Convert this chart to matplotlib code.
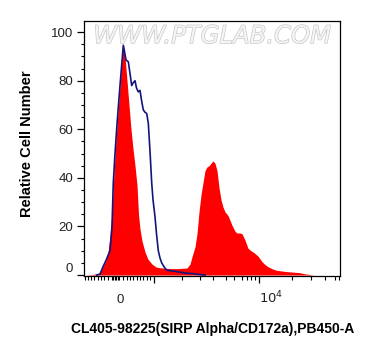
import matplotlib
matplotlib.use('Agg')
import matplotlib.pyplot as plt
import matplotlib.patheffects as pe

plt.rcParams['font.family'] = ['Liberation Sans', 'DejaVu Sans']

# stained sample (red fill), x in display channel units
red_x = [85, 92, 97, 100, 103, 106, 108, 110, 112, 114, 116, 118, 120, 122, 123.3,
         125, 127, 129, 131, 133, 135, 137, 138.5, 140, 142, 145, 148, 152, 156, 160,
         165, 172, 180, 187, 190, 192, 195, 197, 199, 201, 203, 205, 207, 209, 211,
         213, 215, 217, 219, 221, 223, 225, 228, 232, 235, 237, 240, 242, 245, 248,
         251, 254, 258, 262, 265, 268, 272, 276, 281, 287, 293, 299, 305, 310, 314]
red_y = [0, 0.2, 0.5, 0.8, 3.4, 6, 9.5, 16, 26, 42, 56, 67, 78, 89, 95,
         90, 80, 70, 60, 52, 45, 37, 25, 19, 14, 9.5, 6.5, 4.5, 3.3, 3.0,
         2.8, 2.6, 2.7, 2.9, 4.5, 7.5, 11.6, 17, 26, 33, 38, 43, 44.5, 45, 46,
         47, 46, 43, 36, 31, 28, 26, 24.5, 20.5, 18, 17.3, 17.3, 17, 14.4, 11,
         10, 9.2, 7.8, 5.5, 4.3, 3.4, 2.6, 2, 1.7, 1.4, 1.2, 1, 0.5, 0.2, 0]

# unstained control (blue line)
blue_x = [96.7, 100, 103, 106, 110, 112, 113.3, 115, 117, 118.3, 120, 122, 123.3, 124.5,
          126, 128.3, 130, 131.7, 133, 135, 136.5, 138.3, 140, 141.5, 143.3, 145, 146.7,
          148.3, 150, 151.7, 153, 155, 156.5, 158.3, 160, 161.7, 164, 166.7, 170, 174,
          180, 185, 192, 198, 205]
blue_y = [0, 0.4, 3.4, 6, 10, 20, 38, 50, 62, 69, 78, 88, 94.6, 92,
          88.5, 87.8, 83, 78, 79, 80, 77, 75.4, 76, 72, 68, 67, 66.5,
          62.5, 51, 38, 31, 24, 17, 10, 7, 5, 3.4, 2, 1.8, 1.6,
          1.2, 0.8, 0.6, 0.3, 0]

x_major = [119.7, 154, 259]
x_major_labels = ['0', '', r'$10^4$']
x_minor = [84.5, 87.5, 91, 94, 97.5, 101, 104, 107.5, 111.5, 113, 114.5, 116, 117.5, 119,
           123.3, 126.7, 130, 133.3, 136.7, 140, 143.3, 146.7, 150, 181.7, 200, 213.3,
           225.5, 234, 241.7, 246.7, 251, 255, 291.5, 311, 324.5, 334.5, 339]
y_major = [0, 20, 40, 60, 80, 100]
y_minor = [v for v in range(0, 105, 5)]

fig = plt.figure(figsize=(3.77, 3.56), dpi=100, facecolor='white')
ax = fig.add_axes([84/377, 80/356, 256/377, 255.3/356])

ax.fill_between(red_x, red_y, 0, color='#ff0000', lw=0, zorder=2)
ax.plot(blue_x, blue_y, color='#14147e', lw=1.2, zorder=3)

ax.set_xlim(84, 340)
ax.set_ylim(-0.4, 104.7)

for sp in ax.spines.values():
    sp.set_color('black')
    sp.set_linewidth(0.9)

ax.set_xticks(x_major)
ax.set_xticklabels(x_major_labels)
ax.set_xticks(x_minor, minor=True)
ax.set_yticks(y_major)
ax.set_yticks(y_minor, minor=True)

ax.tick_params(axis='x', which='major', length=5, width=0.9, pad=14.4,
               labelsize=9.5, labelcolor='#222222')
ax.tick_params(axis='x', which='minor', length=2.9, width=0.8)
ax.tick_params(axis='y', which='major', length=4.8, width=0.9, pad=3,
               labelsize=9.5, labelcolor='#222222')
ax.tick_params(axis='y', which='minor', length=2.4, width=0.8)

for lab in ax.get_xticklabels():
    lab.set_va('baseline')
ax.xaxis.get_major_ticks()[0].tick1line.set_visible(False)
ax.xaxis.get_major_ticks()[2].label1.set_ha('left')
ax.get_yticklabels()[0].set_va('bottom')

# watermark
ax.text(0.5, 0.94, 'WWW.PTGLAB.COM', transform=ax.transAxes, ha='center', va='center',
        fontsize=17.5, family='DejaVu Sans', style='oblique', color='#f4f4f4', zorder=1,
        path_effects=[pe.Stroke(linewidth=0.9, foreground='#c4c4c4'), pe.Normal()])

fig.text(27/377, 1 - 144/356, 'Relative Cell Number', rotation=90, ha='center', va='center',
         fontsize=10.5, fontweight='bold', color='black')
fig.text(213/377, 1 - 333/356, 'CL405-98225(SIRP Alpha/CD172a),PB450-A', ha='center',
         va='baseline', fontsize=10, fontweight='bold', color='black')

fig.savefig('out.png', dpi=100, facecolor='white')
